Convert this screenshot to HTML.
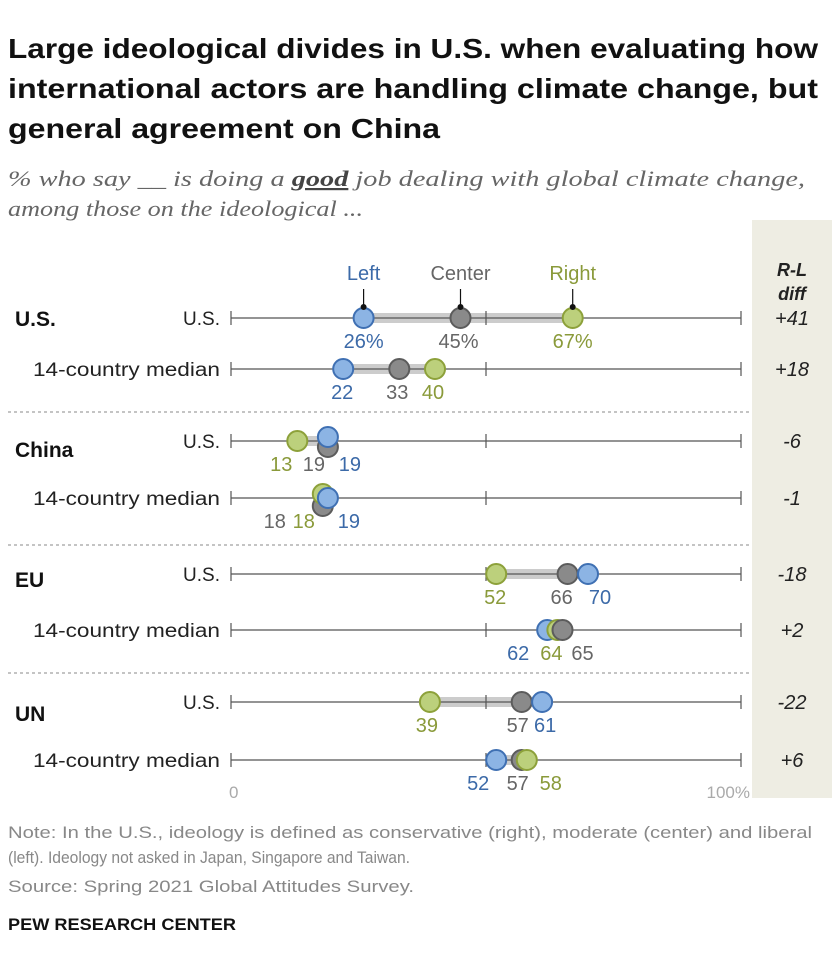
<!DOCTYPE html>
<html><head><meta charset="utf-8"><style>
body{margin:0;background:#fff;width:840px;height:972px;overflow:hidden;font-family:"Liberation Sans",sans-serif}
</style></head><body>
<svg width="840" height="972" xmlns="http://www.w3.org/2000/svg" font-family="Liberation Sans, sans-serif">
<g font-size="28" font-weight="bold" fill="#111">
<text x="8" y="58" textLength="810" lengthAdjust="spacingAndGlyphs">Large ideological divides in U.S. when evaluating how</text>
<text x="8" y="98" textLength="810" lengthAdjust="spacingAndGlyphs">international actors are handling climate change, but</text>
<text x="8" y="138" textLength="432" lengthAdjust="spacingAndGlyphs">general agreement on China</text>
</g>
<g font-family="Liberation Serif, serif" font-style="italic" font-size="22" fill="#666">
<text x="8" y="186" textLength="797" lengthAdjust="spacingAndGlyphs">% who say __ is doing a <tspan font-weight="bold" text-decoration="underline" fill="#444">good</tspan> job dealing with global climate change,</text>
<text x="8" y="216" textLength="355" lengthAdjust="spacingAndGlyphs">among those on the ideological ...</text>
</g>
<rect x="752" y="220" width="80" height="578" fill="#eeede3"/>
<g font-style="italic" font-weight="bold" font-size="18" fill="#222" text-anchor="middle">
<text x="792" y="276">R-L</text><text x="792" y="300">diff</text>
</g>
<g id="plot"></g>
<g font-size="17" fill="#888">
<text x="8" y="838" textLength="804" lengthAdjust="spacingAndGlyphs">Note: In the U.S., ideology is defined as conservative (right), moderate (center) and liberal</text>
<text x="8" y="863" textLength="402" lengthAdjust="spacingAndGlyphs">(left). Ideology not asked in Japan, Singapore and Taiwan.</text>
<text x="8" y="892" textLength="406" lengthAdjust="spacingAndGlyphs">Source: Spring 2021 Global Attitudes Survey.</text>
</g>
<text x="8" y="930" font-size="17" font-weight="bold" fill="#111" textLength="228" lengthAdjust="spacingAndGlyphs">PEW RESEARCH CENTER</text>
</svg>
<script>
const groups=["U.S.","China","EU","UN"];
const rowLabels=["U.S.","14-country median"];
const leftVals=[26,22,19,19,70,62,61,52];
const centerVals=[45,33,19,18,66,65,57,57];
const rightVals=[67,40,13,18,52,64,39,58];
const diffLabels=["+41","+18","-6","-1","-18","+2","-22","+6"];
const rowY=[318,369,441,498,574,630,702,760];
const groupY=[318,449,579,713];
const NS="http://www.w3.org/2000/svg";
const plot=document.getElementById('plot');
const x=v=>231+v*5.1;
function el(t,a,p){const e=document.createElementNS(NS,t);for(const k in a)e.setAttribute(k,a[k]);(p||plot).appendChild(e);return e;}
function txt(s,a){const e=el('text',a);e.textContent=s;return e;}
[412,545,673].forEach(y=>{const l=el('line',{x1:8,x2:752,y1:y,y2:y,stroke:'#888','stroke-dasharray':'3,3'});

});
groups.forEach((g,i)=>{const t=txt(g,{x:15,y:groupY[i]+8,'font-size':21,'font-weight':'bold',fill:'#111'});

});
const colors={L:['#8cb4e4','#3f70b3','#3c6aa8'],C:['#8a8a8a','#5c5c5c','#666'],R:['#bcd07c','#8da13a','#8a9a3a']};
const dyL=[0,0,-4,0,0,0,0,0],dyC=[0,0,6,8,0,0,0,0],dyR=[0,0,0,-4,0,0,0,0];
const lblDx={L:[0,-1,22,21,12,-29,3,-18],C:[-2,-2,-14,-48,-6,20,-4,-4],R:[0,-2,-16,-19,-1,-6,-3,24]};
const drawOrder=[['R','C','L'],['R','C','L'],['R','C','L'],['C','R','L'],['R','C','L'],['L','R','C'],['R','C','L'],['L','C','R']];
rowY.forEach((y,i)=>{
 const lab=rowLabels[i%2];
 const rl=txt(lab,{x:220,y:y+7,'font-size':19,fill:'#222','text-anchor':'end'});
 if(i%2){rl.setAttribute('textLength','187');rl.setAttribute('lengthAdjust','spacingAndGlyphs');}
 
 
 const vals=[leftVals[i],centerVals[i],rightVals[i]];
 const rng=el('rect',{x:x(Math.min(...vals)),y:y-5,width:x(Math.max(...vals))-x(Math.min(...vals)),height:10,fill:'#ccc'});
 
 
 const ax=el('g',{});
 
 
 el('line',{x1:x(0),x2:x(100),y1:y,y2:y,stroke:'#555','stroke-width':1.2},ax);
 [0,50,100].forEach(v=>el('line',{x1:x(v),x2:x(v),y1:y-7,y2:y+7,stroke:'#555','stroke-width':1.2},ax));
 const info={L:[leftVals[i],dyL[i]],C:[centerVals[i],dyC[i]],R:[rightVals[i],dyR[i]]};
 drawOrder[i].forEach(s=>{const [v,dy]=info[s];
  const c=el('circle',{cx:x(v),cy:y+dy,r:10,fill:colors[s][0],stroke:colors[s][1],'stroke-width':2});
  
  
 });
 ['L','C','R'].forEach(s=>{const v=info[s][0];
  const t=txt(v+(i===0?'%':''),{x:x(v)+lblDx[s][i],y:y+30,'font-size':20,fill:colors[s][2],'text-anchor':'middle'});
  
  
 });
 const d=txt(diffLabels[i],{x:792,y:y+7,'font-size':20,'font-style':'italic',fill:'#222','text-anchor':'middle'});
 
 
});
[['Left',leftVals[0],'L'],['Center',centerVals[0],'C'],['Right',rightVals[0],'R']].forEach(([n,v,s])=>{
 const g=el('g',{});
 
 
 const t=document.createElementNS(NS,'text');t.textContent=n;
 for(const [k,a] of Object.entries({x:x(v),y:280,'font-size':20,fill:colors[s][2],'text-anchor':'middle'}))t.setAttribute(k,a);
 g.appendChild(t);
 el('line',{x1:x(v),x2:x(v),y1:289,y2:306,stroke:'#111','stroke-width':1.2},g);
 el('circle',{cx:x(v),cy:307,r:3,fill:'#111'},g);
});
[['0',0,'start'],['100%',100,'end']].forEach(([s,v,a])=>{const t=txt(s,{x:x(v)+(v?9:-2),y:798,'font-size':17,fill:'#aaa','text-anchor':a});

});
</script>
</body></html>
